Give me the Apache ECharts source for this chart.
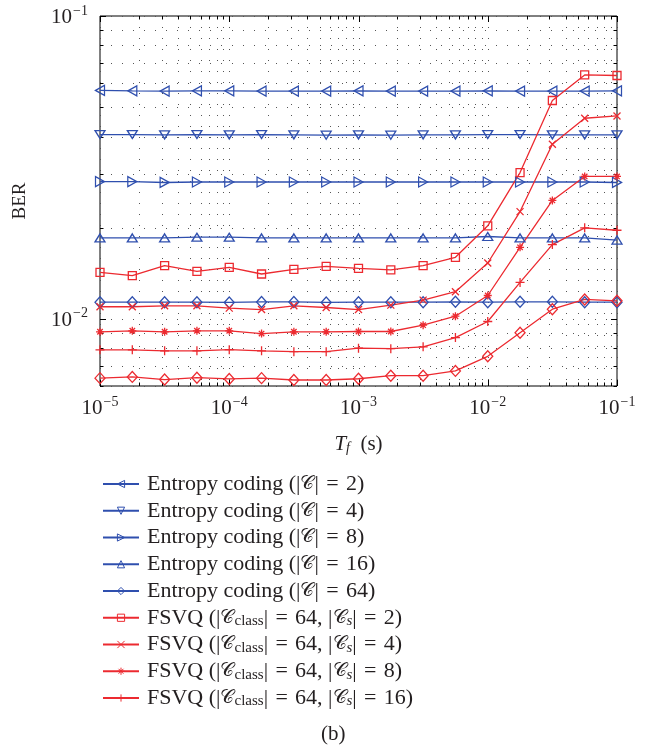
<!DOCTYPE html>
<html>
<head>
<meta charset="utf-8">
<script src="https://cdn.jsdelivr.net/npm/echarts@6/dist/echarts.min.js"></script>
<style>
  html, body { margin: 0; padding: 0; background: #fff; }
  #chart { width: 665px; height: 749px; }
</style>
</head>
<body>
<div id="chart"></div>
<script>
// Frame duration T_f (s), quarter-decade steps
const tf = [1e-5, 1.778e-5, 3.162e-5, 5.623e-5, 1e-4, 1.778e-4, 3.162e-4, 5.623e-4,
            1e-3, 1.778e-3, 3.162e-3, 5.623e-3, 1e-2, 1.778e-2, 3.162e-2, 5.623e-2, 1e-1];

// BER, entropy coding
const ent2  = [0.0568, 0.0566, 0.0565, 0.0566, 0.0566, 0.0565, 0.0565, 0.0565, 0.0566, 0.0565, 0.0565, 0.0565, 0.0566, 0.0565, 0.0565, 0.0565, 0.0566];
const ent4  = [0.0406, 0.0406, 0.0405, 0.0406, 0.0405, 0.0406, 0.0405, 0.0404, 0.0405, 0.0404, 0.0405, 0.0405, 0.0406, 0.0406, 0.0405, 0.0405, 0.0405];
const ent8  = [0.0284, 0.0284, 0.0282, 0.0283, 0.0283, 0.0283, 0.0283, 0.0283, 0.0283, 0.0283, 0.0283, 0.0283, 0.0283, 0.0283, 0.0283, 0.0283, 0.0282];
const ent16 = [0.0185, 0.0185, 0.0185, 0.0186, 0.0186, 0.0185, 0.0185, 0.0185, 0.0185, 0.0185, 0.0185, 0.0185, 0.0187, 0.0185, 0.0185, 0.0185, 0.0182];
const ent64 = [0.01135, 0.01135, 0.01135, 0.01135, 0.01133, 0.01137, 0.01137, 0.01133, 0.01135, 0.01135, 0.01135, 0.01138, 0.01135, 0.01138, 0.01138, 0.01135, 0.01135];

// BER, FSVQ with |C_class| = 64
const fsvq2  = [0.01423, 0.01388, 0.01498, 0.01434, 0.01479, 0.01406, 0.01457, 0.0149, 0.01467, 0.0145, 0.01498, 0.01596, 0.02028, 0.0304, 0.0526, 0.0639, 0.0636];
const fsvq4  = [0.01096, 0.01096, 0.01104, 0.01104, 0.01085, 0.01073, 0.01104, 0.0109, 0.01073, 0.0111, 0.01153, 0.01229, 0.01529, 0.0226, 0.0377, 0.04596, 0.04677];
const fsvq8  = [0.00906, 0.00913, 0.00906, 0.00913, 0.00913, 0.00894, 0.00906, 0.00906, 0.00908, 0.00908, 0.00953, 0.0102, 0.01194, 0.01722, 0.0246, 0.02953, 0.02953];
const fsvq16 = [0.0079, 0.0079, 0.00784, 0.00784, 0.00791, 0.00784, 0.00779, 0.00779, 0.008, 0.00797, 0.00808, 0.00867, 0.0098, 0.01319, 0.01758, 0.01997, 0.01961];
const fsvqDiamond = [0.00637, 0.00643, 0.0063, 0.00639, 0.00633, 0.00637, 0.00628, 0.00628, 0.00634, 0.00649, 0.00649, 0.00673, 0.00752, 0.00899, 0.01076, 0.01159, 0.01147];

// Grid / tick positions (decades and their 2..9 subdivisions)
const xTicks = [1e-5, 2e-5, 3e-5, 4e-5, 5e-5, 6e-5, 7e-5, 8e-5, 9e-5,
                1e-4, 2e-4, 3e-4, 4e-4, 5e-4, 6e-4, 7e-4, 8e-4, 9e-4,
                1e-3, 2e-3, 3e-3, 4e-3, 5e-3, 6e-3, 7e-3, 8e-3, 9e-3,
                1e-2, 2e-2, 3e-2, 4e-2, 5e-2, 6e-2, 7e-2, 8e-2, 9e-2, 1e-1];
const yTicks = [0.006, 0.007, 0.008, 0.009,
                0.01, 0.02, 0.03, 0.04, 0.05, 0.06, 0.07, 0.08, 0.09, 0.1];

const BLUE = '#2f4fae';
const RED = '#ec2a30';
const INK = '#231f20';
const FONT = 'Liberation Serif';

const SYM = {
  left:  'path://M0,5L10,0L10,10Z',
  down:  'path://M0,0L10,0L5,10Z',
  right: 'path://M10,5L0,0L0,10Z',
  up:    'path://M5,0L10,10L0,10Z',
  diamond: 'path://M5,0L10,5L5,10L0,5Z',
  square: 'path://M0,0L10,0L10,10L0,10Z',
  cross: 'path://M0,0L10,10M10,0L0,10',
  star:  'path://M5,0L5,10M0,5L10,5M1.6,1.6L8.4,8.4M8.4,1.6L1.6,8.4',
  plus:  'path://M5,0L5,10M0,5L10,5'
};

const C = '\u{1D49E}';
const names = {
  e2:  'Entropy coding (|C| = 2)',
  e4:  'Entropy coding (|C| = 4)',
  e8:  'Entropy coding (|C| = 8)',
  e16: 'Entropy coding (|C| = 16)',
  e64: 'Entropy coding (|C| = 64)',
  f2:  'FSVQ (|C_class| = 64, |C_s| = 2)',
  f4:  'FSVQ (|C_class| = 64, |C_s| = 4)',
  f8:  'FSVQ (|C_class| = 64, |C_s| = 8)',
  f16: 'FSVQ (|C_class| = 64, |C_s| = 16)'
};
const legendOrder = ['e2', 'e4', 'e8', 'e16', 'e64', 'f2', 'f4', 'f8', 'f16'];

// math-style spacing around "="
const EQ = '\u2004=\u2004';

function legendLabel(name) {
  const m = name.match(/^Entropy coding \(\|C\| = (\d+)\)$/);
  if (m) return '{n|Entropy coding (|}{c|' + C + '}{n||' + EQ + m[1] + ')}';
  const f = name.match(/^FSVQ \(\|C_class\| = 64, \|C_s\| = (\d+)\)$/);
  if (f) return '{n|FSVQ (|}{c|' + C + '}{sub|class}{n||' + EQ + '64, |}{c|' + C + '}{subi|s}{n||' + EQ + f[1] + ')}';
  return name;
}

function pairs(ys) { return tf.map((x, i) => [x, ys[i]]); }

function lineSeries(name, ys, color, symbol, size) {
  return {
    name: name,
    type: 'line',
    data: pairs(ys),
    symbol: symbol,
    symbolSize: size,
    showAllSymbol: true,
    animation: false,
    lineStyle: { color: color, width: 1.3 },
    itemStyle: { color: 'rgba(255,255,255,0)', borderColor: color, borderWidth: 1.3 },
    emphasis: { disabled: true },
    z: 3
  };
}

function isDecade(v) {
  const e = Math.log10(v);
  return Math.abs(e - Math.round(e)) < 1e-6;
}

function powLabel(v) {
  if (!isDecade(v)) return '';
  return '{b|10}{s|\u2212' + (-Math.round(Math.log10(v))) + '}';
}

const tickRich = {
  b: { fontFamily: FONT, fontSize: 21, color: INK, lineHeight: 24, verticalAlign: 'bottom' },
  s: { fontFamily: FONT, fontSize: 14, color: INK, lineHeight: 24, verticalAlign: 'top', padding: [0, 0, 0, 1] }
};

const dotStyle = { stroke: '#555', lineWidth: 1, lineDash: [1, 10] };
const tickStyle = { stroke: '#000', lineWidth: 1 };

function xGrid(params, api) {
  const cs = params.coordSys;
  const v = api.value(0);
  const px = Math.round(api.coord([v, 0.01])[0]) + 0.5;
  const top = cs.y, bot = cs.y + cs.height;
  const len = isDecade(v) ? 6 : 3.5;
  return {
    type: 'group',
    children: [
      { type: 'line', shape: { x1: px, y1: top, x2: px, y2: bot }, style: dotStyle, silent: true },
      { type: 'line', shape: { x1: px, y1: bot, x2: px, y2: bot - len }, style: tickStyle, silent: true },
      { type: 'line', shape: { x1: px, y1: top, x2: px, y2: top + len }, style: tickStyle, silent: true }
    ]
  };
}

function yGrid(params, api) {
  const cs = params.coordSys;
  const v = api.value(1);
  const py = Math.round(api.coord([1e-3, v])[1]) + 0.5;
  const left = cs.x, right = cs.x + cs.width;
  const len = isDecade(v) ? 6 : 3.5;
  return {
    type: 'group',
    children: [
      { type: 'line', shape: { x1: left, y1: py, x2: right, y2: py }, style: dotStyle, silent: true },
      { type: 'line', shape: { x1: left, y1: py, x2: left + len, y2: py }, style: tickStyle, silent: true },
      { type: 'line', shape: { x1: right, y1: py, x2: right - len, y2: py }, style: tickStyle, silent: true }
    ]
  };
}

const chart = echarts.init(document.getElementById('chart'), null, { renderer: 'canvas' });

chart.setOption({
  backgroundColor: '#fff',
  animation: false,
  grid: {
    left: 100, top: 16, right: 48, bottom: 363,
    show: true, borderColor: '#000', borderWidth: 1, backgroundColor: 'transparent'
  },
  xAxis: {
    type: 'log', logBase: 10, min: 1e-5, max: 1e-1,
    axisLine: { show: false }, axisTick: { show: false }, splitLine: { show: false },
    axisLabel: { formatter: powLabel, rich: tickRich, margin: 9, showMinLabel: true, showMaxLabel: true },
    name: '{i|T}{sub|f}{n|  (s)}',
    nameLocation: 'middle', nameGap: 45,
    nameTextStyle: {
      rich: {
        i: { fontFamily: FONT, fontStyle: 'italic', fontSize: 21, color: INK, lineHeight: 24, verticalAlign: 'bottom' },
        sub: { fontFamily: FONT, fontStyle: 'italic', fontSize: 14, color: INK, lineHeight: 12, verticalAlign: 'bottom' },
        n: { fontFamily: FONT, fontSize: 21, color: INK, lineHeight: 24, verticalAlign: 'bottom' }
      }
    }
  },
  yAxis: {
    type: 'log', logBase: 10, min: 0.006, max: 0.1,
    axisLine: { show: false }, axisTick: { show: false }, splitLine: { show: false },
    axisLabel: { formatter: powLabel, rich: tickRich, margin: 12, showMinLabel: true, showMaxLabel: true },
    name: 'BER', nameLocation: 'middle', nameGap: 70, nameRotate: 90,
    nameTextStyle: { fontFamily: FONT, fontSize: 19, color: INK }
  },
  legend: {
    orient: 'vertical',
    left: 97, top: 468,
    itemWidth: 36, itemHeight: 9, itemGap: 4.75,
    selectedMode: false,
    data: legendOrder.map(k => ({
      name: names[k],
      itemStyle: { color: 'rgba(255,255,255,0)', borderWidth: 1 }
    })),
    formatter: legendLabel,
    textStyle: {
      padding: [0, 0, 0, 3],
      rich: {
        n: { fontFamily: FONT, fontSize: 22, color: INK, lineHeight: 22, verticalAlign: 'middle' },
        c: { fontFamily: 'DejaVu Serif, DejaVu Sans, ' + FONT, fontSize: 19, color: INK, lineHeight: 22, verticalAlign: 'middle' },
        sub: { fontFamily: FONT, fontSize: 15, color: INK, lineHeight: 10, verticalAlign: 'bottom' },
        subi: { fontFamily: FONT, fontStyle: 'italic', fontSize: 15, color: INK, lineHeight: 10, verticalAlign: 'bottom' }
      }
    }
  },
  graphic: [
    { type: 'text', left: 321, top: 724, style: { text: '(b)', font: '21px "Liberation Serif"', fill: INK } }
  ],
  series: [
    { type: 'custom', name: 'xgrid', renderItem: xGrid, data: xTicks.map(v => [v, 0.01]), z: 1, silent: true, clip: false },
    { type: 'custom', name: 'ygrid', renderItem: yGrid, data: yTicks.map(v => [1e-3, v]), z: 1, silent: true, clip: false },
    lineSeries(names.e2, ent2, BLUE, SYM.left, [9, 10]),
    lineSeries(names.e4, ent4, BLUE, SYM.down, [10, 8]),
    lineSeries(names.e8, ent8, BLUE, SYM.right, [9, 10]),
    lineSeries(names.e16, ent16, BLUE, SYM.up, [10, 8]),
    lineSeries(names.e64, ent64, BLUE, SYM.diamond, [10, 11]),
    lineSeries(names.f2, fsvq2, RED, SYM.square, [8, 8]),
    lineSeries(names.f4, fsvq4, RED, SYM.cross, [7, 7]),
    lineSeries(names.f8, fsvq8, RED, SYM.star, [8, 8]),
    lineSeries(names.f16, fsvq16, RED, SYM.plus, [9, 9]),
    lineSeries('FSVQ diamond', fsvqDiamond, RED, SYM.diamond, [10, 11])
  ]
});
</script>
</body>
</html>
